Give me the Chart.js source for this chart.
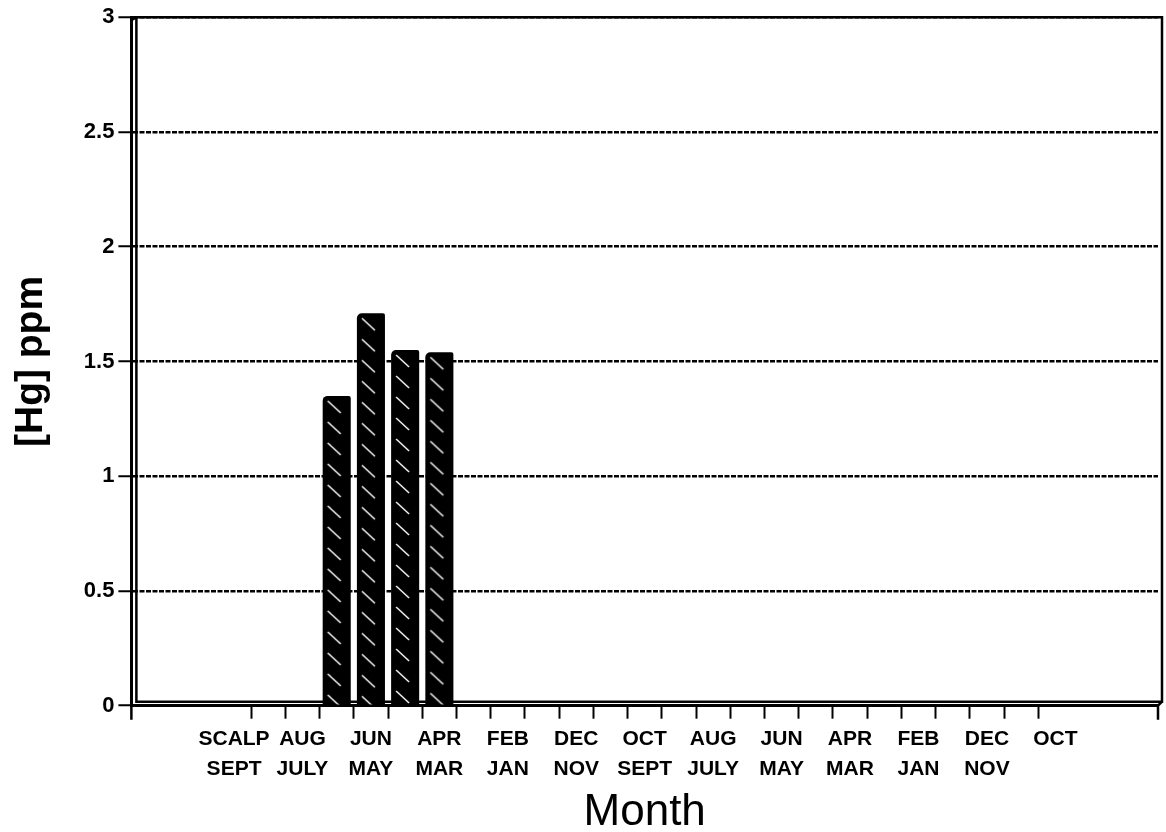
<!DOCTYPE html>
<html>
<head>
<meta charset="utf-8">
<title>[Hg] ppm by month</title>
<script src="https://cdn.jsdelivr.net/npm/chart.js@4.4.0/dist/chart.umd.min.js"></script>
<style>
  html, body { margin: 0; padding: 0; background: #fff; }
  #wrap { width: 1166px; height: 832px; }
</style>
</head>
<body>
<div id="wrap"><canvas id="hgChart" width="1166" height="832"></canvas></div>
<script>
// Months run newest first, the scalp sample leads
const months = ['SCALP', 'SEPT', 'AUG', 'JULY', 'JUN', 'MAY', 'APR', 'MAR', 'FEB', 'JAN', 'DEC', 'NOV', 'OCT',
                'SEPT', 'AUG', 'JULY', 'JUN', 'MAY', 'APR', 'MAR', 'FEB', 'JAN', 'DEC', 'NOV', 'OCT'];
const hgValues = [null, null, null, 1.35, 1.71, 1.55, 1.54, null, null, null, null, null, null,
                  null, null, null, null, null, null, null, null, null, null, null, null];
const yTicks = [0, 0.5, 1, 1.5, 2, 2.5, 3];

const emptySlots = 2.5;   // blank category widths left and right of the months
const FONT = "'Liberation Sans', Arial, sans-serif";

const canvas = document.getElementById('hgChart');
const ctx = canvas.getContext('2d');

// black fill with one short white "\" stroke per row
function hatchPattern() {
    const tile = document.createElement('canvas');
    tile.width = 40;
    tile.height = 21;
    const t = tile.getContext('2d');
    t.fillStyle = '#000';
    t.fillRect(0, 0, tile.width, tile.height);
    t.strokeStyle = '#fff';
    t.lineWidth = 1.4;
    t.beginPath();
    t.moveTo(5, 5);
    t.lineTo(18, 17);
    t.stroke();
    return ctx.createPattern(tile, 'repeat');
}
const hatches = hgValues.map(() => hatchPattern());

// line each bar's hatch up with its own left edge
const hatchAlign = {
    id: 'hatchAlign',
    beforeDatasetsDraw(chart) {
        chart.getDatasetMeta(0).data.forEach((bar, i) => {
            if (hgValues[i] == null) return;
            const left = bar.x - bar.width / 2;
            hatches[i].setTransform(new DOMMatrix([1, 0, 0, 1, left, bar.y]));
        });
    }
};

// back wall of the plot box plus the axis end ticks
const frame = {
    id: 'frame',
    beforeDatasetsDraw(chart) {
        const {left, right, top, bottom} = chart.chartArea;
        const d = 5;
        const c = chart.ctx;
        c.save();
        c.strokeStyle = '#000';
        c.lineWidth = 2.5;
        c.beginPath();
        c.moveTo(left, top + 3);
        c.lineTo(left + d, top);
        c.lineTo(right + d - 1, top);
        c.lineTo(right + d - 1, bottom - d + 1);
        c.lineTo(left + d, bottom - d + 1);
        c.lineTo(left + d, top);
        c.moveTo(right, bottom);
        c.lineTo(right + d - 1, bottom - d + 1);
        c.moveTo(left, bottom);
        c.lineTo(left, bottom + 14);
        c.moveTo(right, bottom);
        c.lineTo(right, bottom + 14);
        c.stroke();
        c.restore();
    }
};

new Chart(ctx, {
    type: 'bar',
    data: {
        labels: months,
        datasets: [{
            label: '[Hg] ppm',
            data: hgValues,
            backgroundColor: (c) => hatches[c.dataIndex],
            borderWidth: 0,
            borderRadius: { topLeft: 5, topRight: 2, bottomLeft: 0, bottomRight: 0 },
            borderSkipped: 'bottom',
            barPercentage: 0.82,
            categoryPercentage: 1
        }]
    },
    options: {
        responsive: false,
        animation: false,
        devicePixelRatio: 1,
        layout: { padding: { left: 4, top: 15, right: 8, bottom: 0 } },
        plugins: {
            legend: { display: false },
            tooltip: { enabled: false }
        },
        scales: {
            x: {
                type: 'category',
                offset: true,
                afterBuildTicks: (scale) => {
                    // widen the axis so the months sit inside empty margins
                    scale._startValue -= emptySlots;
                    scale._valueRange += 2 * emptySlots;
                },
                grid: {
                    offset: true,
                    drawOnChartArea: false,
                    tickLength: 13,
                    tickWidth: 2,
                    tickColor: (c) => (c.type === 'tick' && c.index > 0) ? '#000' : 'rgba(0,0,0,0)'
                },
                border: { color: '#000', width: 3 },
                ticks: {
                    autoSkip: false,
                    maxRotation: 0,
                    padding: 5,
                    color: '#000',
                    font: { family: FONT, size: 21, weight: 'bold', lineHeight: 1.45 },
                    callback: (v, i) => i % 2 === 0 ? [months[i], months[i + 1] || ''] : ''
                },
                title: {
                    display: true,
                    text: 'Month',
                    color: '#000',
                    font: { family: FONT, size: 44, weight: 'normal', lineHeight: 0.85 },
                    padding: { top: 5, bottom: 0 }
                }
            },
            y: {
                min: 0,
                max: 3,
                afterBuildTicks: (scale) => {
                    scale.ticks = yTicks.map(v => ({ value: v }));
                },
                grid: {
                    color: '#000',
                    lineWidth: 2.5,
                    tickLength: 13,
                    tickWidth: 2,
                    tickColor: '#000'
                },
                border: { color: '#000', width: 3, dash: [5, 1.5] },
                ticks: {
                    color: '#000',
                    padding: 4,
                    font: { family: FONT, size: 22, weight: 'bold' },
                    callback: (v) => String(v)
                },
                title: {
                    display: true,
                    text: '[Hg] ppm',
                    color: '#000',
                    font: { family: FONT, size: 39, weight: 'bold', lineHeight: 1.2 },
                    padding: { top: 4, bottom: 25 }
                }
            }
        }
    },
    plugins: [hatchAlign, frame]
});
</script>
</body>
</html>
